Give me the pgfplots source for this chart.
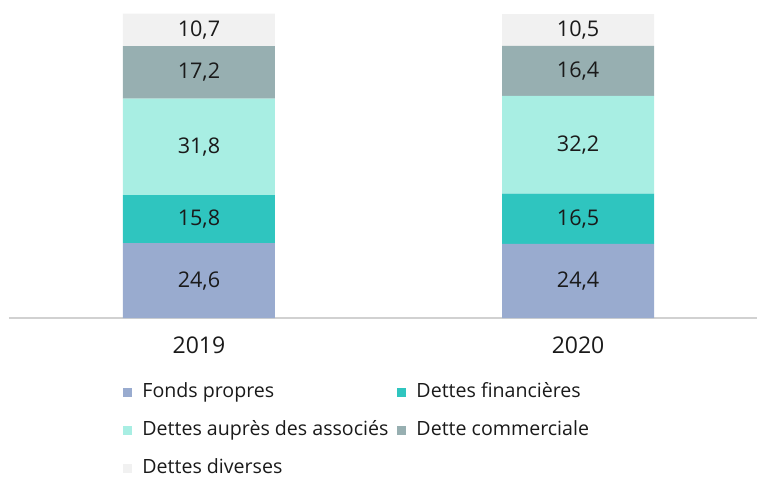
\documentclass[border=0pt]{standalone}
\usepackage{fontspec}
\setmainfont{Open Sans}
\usepackage{pgfplots}
\pgfplotsset{compat=1.18}

\definecolor{cFonds}{HTML}{99ABCF}
\definecolor{cFin}{HTML}{2FC5BF}
\definecolor{cAssoc}{HTML}{A8EEE3}
\definecolor{cComm}{HTML}{97AFB1}
\definecolor{cDiv}{HTML}{F1F1F1}
\definecolor{txt}{HTML}{1A1A1A}

\begin{document}
\begin{tikzpicture}
% stacked bars
\begin{axis}[
  name=ax,
  scale only axis,
  width=374pt, height=152pt,
  ybar stacked,
  bar width=76pt,
  xmin=-0.501, xmax=1.472,
  ymin=0, ymax=100,
  axis x line=bottom,
  axis y line=none,
  axis line style={-, draw=black!18, line width=0.8pt},
  major tick length=0pt,
  xtick={0,1},
  xticklabels={2019,2020},
  xticklabel style={font=\fontsize{11.5pt}{13pt}\selectfont, text=txt, yshift=-6pt},
  legend columns=2,
  legend cell align=left,
  legend image code/.code={\fill[#1] (0pt,-2.25pt) rectangle (4.5pt,2.25pt);},
  legend style={
    at={(0.1524,-0.215)}, anchor=north west,
    draw=none, fill=none, inner sep=0pt,
    font=\fontsize{9.8pt}{11pt}\selectfont, text=txt,
    nodes={inner sep=0pt, text height=7pt, text depth=2pt},
    row sep=10pt,
    /tikz/column 1/.style={column sep=5pt},
    /tikz/column 2/.style={column sep=4.5pt},
    /tikz/column 3/.style={column sep=5pt},
  },
  clip=false,
]
\addplot[fill=cFonds, draw=none] coordinates {(0,24.6) (1,24.4)};
\addlegendentry{Fonds propres}
\addplot[fill=cFin, draw=none] coordinates {(0,15.8) (1,16.5)};
\addlegendentry{Dettes financières}
\addplot[fill=cAssoc, draw=none] coordinates {(0,31.8) (1,32.2)};
\addlegendentry{Dettes auprès des associés}
\addplot[fill=cComm, draw=none] coordinates {(0,17.2) (1,16.4)};
\addlegendentry{Dette commerciale}
\addplot[fill=cDiv, draw=none] coordinates {(0,10.7) (1,10.5)};
\addlegendentry{Dettes diverses}
\end{axis}
% value labels, at the middle of each segment
\begin{axis}[
  scale only axis,
  width=374pt, height=152pt,
  xmin=-0.501, xmax=1.472,
  ymin=0, ymax=100,
  hide axis,
  clip=false,
  nodes near coords,
  point meta=explicit symbolic,
  every node near coord/.append style={
    font=\fontsize{10.8pt}{12pt}\selectfont, text=txt, anchor=center},
]
\addplot[draw=none, mark=none] coordinates {
  (0,12.3) [24,6] (0,32.5) [15,8] (0,56.3) [31,8] (0,80.8) [17,2] (0,94.75) [10,7]
};
\addplot[draw=none, mark=none] coordinates {
  (1,12.2) [24,4] (1,32.65) [16,5] (1,57.0) [32,2] (1,81.2) [16,4] (1,94.75) [10,5]
};
\end{axis}
\pgfresetboundingbox
\path ([shift={(-4.5pt,-79.5pt)}]ax.south west) rectangle ([shift={(0pt,7pt)}]ax.north east);
\end{tikzpicture}
\end{document}
